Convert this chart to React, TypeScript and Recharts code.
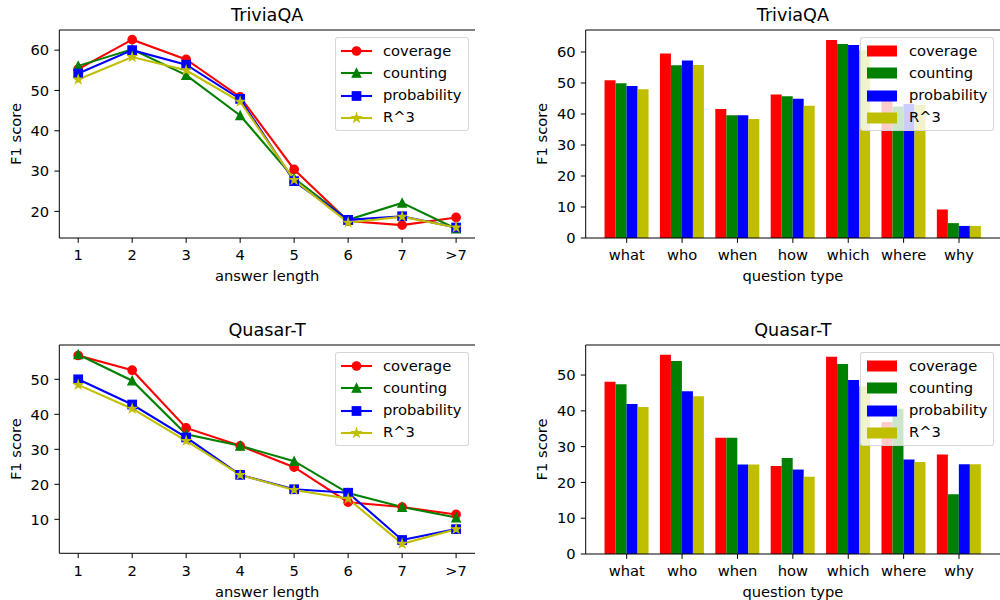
import React from 'react';
import { LineChart, Line, BarChart, Bar, XAxis, YAxis, Legend } from 'recharts';

// categories
const lengthLabels = ['1', '2', '3', '4', '5', '6', '7', '>7'];
const questionTypes = ['what', 'who', 'when', 'how', 'which', 'where', 'why'];

// TriviaQA, by answer length
const triviaLenCoverage = [55.3, 62.6, 57.7, 48.4, 30.4, 17.6, 16.6, 18.5];
const triviaLenCounting = [56.1, 60.2, 53.8, 43.8, 28.2, 17.9, 22.1, 15.7];
const triviaLenProbability = [54.2, 60.0, 56.4, 47.9, 27.5, 17.9, 18.8, 16.0];
const triviaLenR3 = [52.7, 58.3, 55.0, 47.2, 27.8, 17.2, 18.7, 16.0];

// TriviaQA, by question type
const triviaTypeCoverage = [50.9, 59.5, 41.6, 46.3, 63.9, 45.0, 9.2];
const triviaTypeCounting = [49.9, 55.7, 39.6, 45.7, 62.6, 42.4, 4.8];
const triviaTypeProbability = [49.0, 57.3, 39.6, 44.9, 62.3, 43.2, 3.9];
const triviaTypeR3 = [48.0, 55.8, 38.4, 42.7, 60.6, 43.0, 3.9];

// Quasar-T, by answer length
const quasarLenCoverage = [56.8, 52.6, 36.1, 31.0, 24.9, 14.9, 13.5, 11.4];
const quasarLenCounting = [57.1, 49.6, 34.3, 31.0, 26.6, 17.5, 13.5, 10.5];
const quasarLenProbability = [50.0, 42.8, 33.4, 22.7, 18.6, 17.6, 4.1, 7.2];
const quasarLenR3 = [48.4, 41.6, 32.4, 22.7, 18.4, 15.9, 3.0, 7.2];

// Quasar-T, by question type
const quasarTypeCoverage = [48.1, 55.7, 32.5, 24.6, 55.1, 36.9, 27.8];
const quasarTypeCounting = [47.4, 53.9, 32.5, 26.8, 53.1, 40.6, 16.7];
const quasarTypeProbability = [41.9, 45.5, 25.0, 23.6, 48.6, 26.4, 25.1];
const quasarTypeR3 = [41.1, 44.1, 25.0, 21.6, 46.9, 25.7, 25.1];

const SERIES = [
  { key: 'coverage', name: 'coverage', color: '#ff0000', marker: 'circle' },
  { key: 'counting', name: 'counting', color: '#008000', marker: 'triangle' },
  { key: 'probability', name: 'probability', color: '#0000ff', marker: 'square' },
  { key: 'r3', name: 'R^3', color: '#bfbf00', marker: 'star' },
];

const FONT = '"DejaVu Sans", sans-serif';
const FS = 14.7;
const TITLE_FS = 17.6;
const TICK = { fill: '#000', fontSize: FS, fontFamily: FONT };
const LW = 2.08;
const MS = 8.33;

const buildRows = (labels: string[], cov: number[], cnt: number[], prob: number[], r3: number[]) =>
  labels.map((label, i) => ({
    x: i,
    label,
    coverage: cov[i],
    counting: cnt[i],
    probability: prob[i],
    r3: r3[i],
  }));

function starPoints(cx: number, cy: number, r: number) {
  const pts: string[] = [];
  for (let i = 0; i < 10; i++) {
    const rad = i % 2 === 0 ? r : r * 0.381966;
    const a = -Math.PI / 2 + (i * Math.PI) / 5;
    pts.push(`${cx + rad * Math.cos(a)},${cy + rad * Math.sin(a)}`);
  }
  return pts.join(' ');
}

function Marker({ shape, cx, cy, color }: { shape: string; cx: number; cy: number; color: string }) {
  const h = MS / 2;
  const common = { fill: color, stroke: color, strokeWidth: 1.39 };
  if (cx == null || cy == null) return null;
  switch (shape) {
    case 'circle':
      return <circle cx={cx} cy={cy} r={h} {...common} />;
    case 'triangle':
      return <polygon points={`${cx},${cy - h} ${cx - h},${cy + h} ${cx + h},${cy + h}`} {...common} />;
    case 'square':
      return <rect x={cx - h} y={cy - h} width={MS} height={MS} {...common} />;
    default:
      return <polygon points={starPoints(cx, cy, h)} {...common} />;
  }
}

const legendBox: React.CSSProperties = {
  background: 'rgba(255,255,255,0.8)',
  border: '1px solid rgba(204,204,204,0.8)',
  borderRadius: 3,
  boxSizing: 'border-box',
  width: 134,
  height: 94,
  paddingTop: 1.5,
  fontFamily: FONT,
  fontSize: FS,
  color: '#000',
};

const LineLegend = () => (
  <div style={legendBox}>
    {SERIES.map((s) => (
      <div key={s.key} style={{ height: 22.3, display: 'flex', alignItems: 'center' }}>
        <svg width={36} height={14} style={{ marginLeft: 4, flex: 'none' }}>
          <line x1={1} x2={32} y1={7} y2={7} stroke={s.color} strokeWidth={LW} />
          <Marker shape={s.marker} cx={16.5} cy={7} color={s.color} />
        </svg>
        <span style={{ marginLeft: 7, lineHeight: 1 }}>{s.name}</span>
      </div>
    ))}
  </div>
);

const BarLegend = () => (
  <div style={legendBox}>
    {SERIES.map((s) => (
      <div key={s.key} style={{ height: 22.3, display: 'flex', alignItems: 'center' }}>
        <svg width={36} height={14} style={{ marginLeft: 5, flex: 'none' }}>
          <rect x={1} y={1.5} width={30} height={11} fill={s.color} />
        </svg>
        <span style={{ marginLeft: 7, lineHeight: 1 }}>{s.name}</span>
      </div>
    ))}
  </div>
);

type PanelProps = {
  title: string;
  rows: ReturnType<typeof buildRows>;
  yDomain: [number, number];
  yTicks: number[];
  topPad: number;
  bottomH: number;
};

function LinePanel({ title, rows, yDomain, yTicks, topPad, bottomH }: PanelProps) {
  return (
    <LineChart width={500} height={300} data={rows} margin={{ top: topPad, right: 25, bottom: 0, left: 0 }}>
      <XAxis
        xAxisId="top"
        orientation="top"
        dataKey="x"
        type="number"
        domain={[-0.35, 7.35]}
        height={30}
        tick={false}
        tickLine={false}
        stroke="#000"
        label={{ value: title, position: 'center', fill: '#000', fontSize: TITLE_FS, fontFamily: FONT }}
      />
      <XAxis
        dataKey="x"
        type="number"
        domain={[-0.35, 7.35]}
        ticks={[0, 1, 2, 3, 4, 5, 6, 7]}
        tickFormatter={(v: number) => lengthLabels[v]}
        interval={0}
        allowDataOverflow
        height={bottomH}
        tick={TICK}
        tickSize={4.9}
        tickMargin={7}
        stroke="#000"
        label={{ value: 'answer length', position: 'insideTop', offset: 33, fill: '#000', fontSize: FS, fontFamily: FONT }}
      />
      <YAxis
        type="number"
        domain={yDomain}
        ticks={yTicks}
        allowDataOverflow
        width={59.3}
        tick={TICK}
        tickSize={4.9}
        tickMargin={5.2}
        stroke="#000"
        label={{ value: 'F1 score', position: 'center', angle: -90, dx: -14, fill: '#000', fontSize: FS, fontFamily: FONT }}
      />
      <YAxis yAxisId="right" orientation="right" width={0} tick={false} tickLine={false} stroke="#000" />
      {SERIES.map((s) => (
        <Line
          key={s.key}
          type="linear"
          dataKey={s.key}
          name={s.name}
          stroke={s.color}
          strokeWidth={LW}
          isAnimationActive={false}
          activeDot={false}
          dot={(p: any) => <Marker key={`${s.key}-${p.index}`} shape={s.marker} cx={p.cx} cy={p.cy} color={s.color} />}
        />
      ))}
      <Legend
        layout="vertical"
        align="center"
        verticalAlign="middle"
        content={<LineLegend />}
        wrapperStyle={{ left: 335, top: topPad + 37.3, width: 134, height: 94 }}
      />
    </LineChart>
  );
}

function BarPanel({ title, rows, yDomain, yTicks, topPad, bottomH }: PanelProps) {
  return (
    <BarChart
      width={500}
      height={300}
      data={rows}
      margin={{ top: topPad, right: 0, bottom: 0, left: 0 }}
      barCategoryGap="10%"
      barGap={0}
    >
      <XAxis
        xAxisId="top"
        orientation="top"
        dataKey="label"
        height={30}
        tick={false}
        tickLine={false}
        stroke="#000"
        label={{ value: title, position: 'center', fill: '#000', fontSize: TITLE_FS, fontFamily: FONT }}
      />
      <XAxis
        dataKey="label"
        interval={0}
        padding={{ left: 13.3, right: 13.3 }}
        height={bottomH}
        tick={TICK}
        tickSize={4.9}
        tickMargin={7}
        stroke="#000"
        label={{ value: 'question type', position: 'insideTop', offset: 33, fill: '#000', fontSize: FS, fontFamily: FONT }}
      />
      <YAxis
        type="number"
        domain={yDomain}
        ticks={yTicks}
        allowDataOverflow
        width={85.7}
        tick={TICK}
        tickSize={4.9}
        tickMargin={5.2}
        stroke="#000"
        label={{ value: 'F1 score', position: 'center', angle: -90, dx: -1, fill: '#000', fontSize: FS, fontFamily: FONT }}
      />
      {SERIES.map((s) => (
        <Bar key={s.key} dataKey={s.key} name={s.name} fill={s.color} isAnimationActive={false} />
      ))}
      <Legend
        layout="vertical"
        align="center"
        verticalAlign="middle"
        content={<BarLegend />}
        wrapperStyle={{ left: 360, top: topPad + 37.3, width: 134, height: 94 }}
      />
    </BarChart>
  );
}

const triviaLenRows = buildRows(lengthLabels, triviaLenCoverage, triviaLenCounting, triviaLenProbability, triviaLenR3);
const triviaTypeRows = buildRows(questionTypes, triviaTypeCoverage, triviaTypeCounting, triviaTypeProbability, triviaTypeR3);
const quasarLenRows = buildRows(lengthLabels, quasarLenCoverage, quasarLenCounting, quasarLenProbability, quasarLenR3);
const quasarTypeRows = buildRows(questionTypes, quasarTypeCoverage, quasarTypeCounting, quasarTypeProbability, quasarTypeR3);

export default function App() {
  return (
    <div style={{ position: 'absolute', left: 0, top: 0, width: 1000, height: 600, background: '#fff', fontFamily: FONT, overflow: 'hidden' }}>
      <div style={{ position: 'absolute', left: 0, top: 0 }}>
        <LinePanel title="TriviaQA" rows={triviaLenRows} yDomain={[13.4, 65]} yTicks={[20, 30, 40, 50, 60]} topPad={0} bottomH={62} />
      </div>
      <div style={{ position: 'absolute', left: 500, top: 0 }}>
        <BarPanel title="TriviaQA" rows={triviaTypeRows} yDomain={[0, 67.1]} yTicks={[0, 10, 20, 30, 40, 50, 60]} topPad={0} bottomH={62} />
      </div>
      <div style={{ position: 'absolute', left: 0, top: 300 }}>
        <LinePanel title="Quasar-T" rows={quasarLenRows} yDomain={[0.3, 59.8]} yTicks={[10, 20, 30, 40, 50]} topPad={15} bottomH={46.7} />
      </div>
      <div style={{ position: 'absolute', left: 500, top: 300 }}>
        <BarPanel title="Quasar-T" rows={quasarTypeRows} yDomain={[0, 58.4]} yTicks={[0, 10, 20, 30, 40, 50]} topPad={15} bottomH={46} />
      </div>
    </div>
  );
}
